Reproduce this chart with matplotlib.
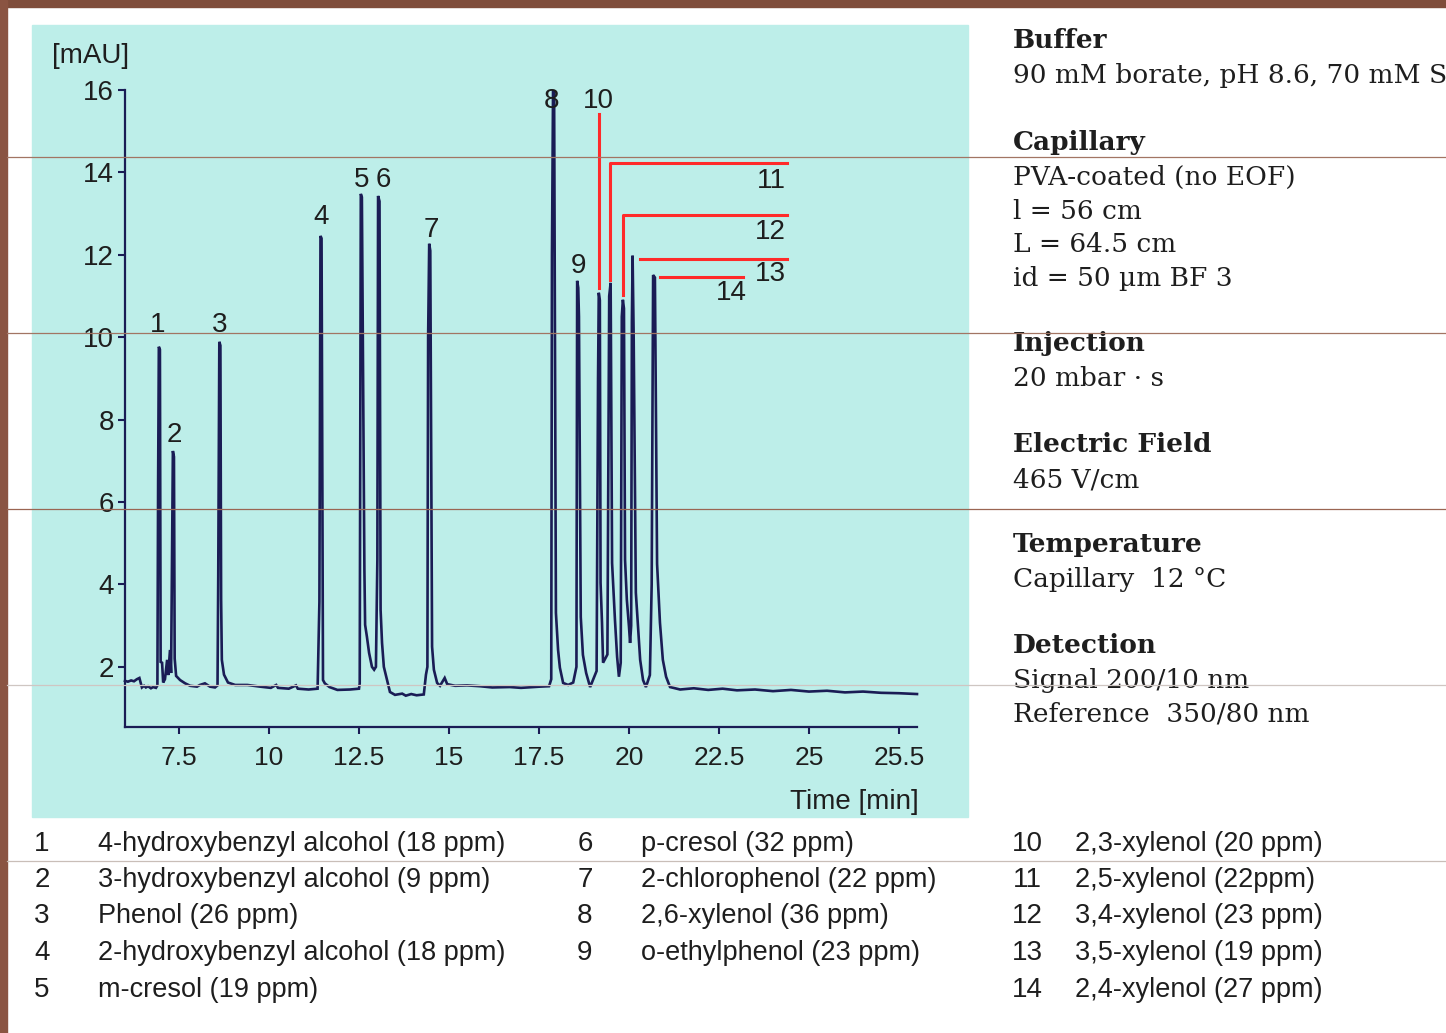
import matplotlib
matplotlib.use("Agg")
import matplotlib.pyplot as plt
from matplotlib.patches import Rectangle
from matplotlib.lines import Line2D

W, H = 1446, 1033

# electropherogram trace: migration time [min] and absorbance [mAU]
trace_t = [
    6.00, 6.08, 6.17, 6.25, 6.33, 6.40, 6.44, 6.47, 6.53, 6.58, 6.64, 6.72, 6.78, 6.86,
    6.90, 6.92, 6.94, 6.97, 6.99, 7.03, 7.06, 7.11, 7.17, 7.20, 7.25, 7.28,
    7.31, 7.33, 7.36, 7.38, 7.42, 7.53, 7.67, 7.81, 8.00, 8.08, 8.22, 8.36, 8.50,
    8.57, 8.59, 8.62, 8.65, 8.67, 8.69, 8.75, 8.86, 9.06, 9.40, 9.75, 10.05, 10.20,
    10.25, 10.55, 10.75, 10.80, 11.10, 11.35,
    11.40, 11.43, 11.46, 11.50, 11.55, 11.68, 11.90, 12.25, 12.50,
    12.52, 12.55, 12.58, 12.65, 12.67, 12.72, 12.78, 12.86, 12.92, 12.97,
    13.01, 13.03, 13.07, 13.10, 13.14, 13.19, 13.28, 13.36, 13.50, 13.70, 13.80,
    13.95, 14.10, 14.30,
    14.36, 14.40, 14.42, 14.45, 14.48, 14.53, 14.58, 14.67, 14.75, 14.88, 14.95,
    15.17, 15.50, 15.86, 16.20, 16.69, 17.00, 17.53, 17.78,
    17.84, 17.86, 17.89, 17.92, 17.97, 18.03, 18.08, 18.17, 18.31, 18.45,
    18.54, 18.56, 18.59, 18.61, 18.66, 18.72, 18.81, 18.92,
    19.10, 19.14, 19.16, 19.19, 19.21, 19.25, 19.28,
    19.40, 19.45, 19.49, 19.53, 19.61, 19.67, 19.72,
    19.77, 19.80, 19.83, 19.86, 19.89, 19.94, 20.00, 20.03,
    20.06, 20.08, 20.10, 20.13, 20.19, 20.25, 20.31, 20.39, 20.47,
    20.58, 20.63, 20.67, 20.72, 20.78, 20.86, 20.94, 21.03, 21.14, 21.42,
    21.80, 22.20, 22.60, 23.00, 23.50, 24.00, 24.50, 25.00, 25.50, 26.00,
    26.50, 27.00, 27.50, 28.00,
]
trace_mau = [
    1.66, 1.64, 1.67, 1.65, 1.70, 1.73, 1.60, 1.50, 1.54, 1.50, 1.53, 1.48, 1.51, 1.49,
    1.55, 6.50, 9.77, 9.70, 2.12, 2.10, 1.62, 1.70, 2.17, 1.80, 2.41, 1.85,
    4.90, 7.24, 7.10, 2.20, 1.78, 1.68, 1.60, 1.54, 1.52, 1.56, 1.60, 1.52, 1.50,
    1.55, 4.23, 9.89, 9.80, 3.63, 2.17, 1.81, 1.62, 1.56, 1.56, 1.52, 1.49, 1.56,
    1.49, 1.47, 1.55, 1.47, 1.45, 1.47,
    3.58, 12.46, 12.40, 1.68, 1.60, 1.51, 1.44, 1.45, 1.47,
    1.60, 13.48, 13.40, 4.35, 3.02, 2.73, 2.34, 2.00, 1.93, 2.00,
    4.60, 13.43, 13.30, 3.38, 2.58, 2.00, 1.68, 1.39, 1.32, 1.35, 1.30,
    1.34, 1.31, 1.33,
    1.81, 2.00, 10.00, 12.27, 12.10, 2.49, 1.93, 1.61, 1.54, 1.73, 1.58,
    1.54, 1.55, 1.53, 1.50, 1.51, 1.49, 1.52, 1.53,
    1.70, 12.00, 16.00, 15.90, 3.31, 2.41, 1.98, 1.61, 1.56, 1.62,
    2.00, 11.37, 11.20, 10.50, 3.21, 2.29, 1.85, 1.51,
    1.90, 9.00, 11.08, 10.90, 4.04, 3.07, 2.10,
    2.30, 11.00, 11.32, 4.52, 3.14, 2.24, 1.76,
    2.10, 10.50, 10.91, 10.70, 4.60, 3.63, 2.97, 2.58,
    3.00, 10.37, 11.98, 10.00, 3.80, 2.97, 2.17, 1.68, 1.51,
    1.80, 4.00, 11.51, 11.45, 4.50, 3.07, 2.17, 1.76, 1.51, 1.45,
    1.48, 1.44, 1.47, 1.43, 1.45, 1.41, 1.44, 1.40, 1.42, 1.38,
    1.40, 1.37, 1.36, 1.34,
]

# peak numbers, apex times and apex heights
peak_ids = list(range(1, 15))
peak_t = [6.94, 7.33, 8.62, 11.43, 12.55, 13.03, 14.45, 17.89, 18.56, 19.16,
          19.49, 19.83, 20.10, 20.69]
peak_mau = [9.77, 7.24, 9.89, 12.46, 13.48, 13.43, 12.27, 16.00, 11.37, 11.08,
            11.32, 10.91, 11.98, 11.51]

x_ticks = [7.5, 10, 12.5, 15, 17.5, 20, 22.5, 25, 27.5]
x_tick_labels = ["7.5", "10", "12.5", "15", "17.5", "20", "22.5", "25", "25.5"]
y_ticks = [2, 4, 6, 8, 10, 12, 14, 16]

compounds = [
    "4-hydroxybenzyl alcohol (18 ppm)",
    "3-hydroxybenzyl alcohol (9 ppm)",
    "Phenol (26 ppm)",
    "2-hydroxybenzyl alcohol (18 ppm)",
    "m-cresol (19 ppm)",
    "p-cresol (32 ppm)",
    "2-chlorophenol (22 ppm)",
    "2,6-xylenol (36 ppm)",
    "o-ethylphenol (23 ppm)",
    "2,3-xylenol (20 ppm)",
    "2,5-xylenol (22ppm)",
    "3,4-xylenol (23 ppm)",
    "3,5-xylenol (19 ppm)",
    "2,4-xylenol (27 ppm)",
]

conditions = [
    ("Buffer", ["90 mM borate, pH 8.6, 70 mM SDS"]),
    ("Capillary", ["PVA-coated (no EOF)", "l = 56 cm", "L = 64.5 cm",
                   "id = 50 \u00b5m BF 3"]),
    ("Injection", ["20 mbar \u00b7 s"]),
    ("Electric Field", ["465 V/cm"]),
    ("Temperature", ["Capillary  12 \u00b0C"]),
    ("Detection", ["Signal 200/10 nm", "Reference  350/80 nm"]),
]

NAVY = "#1a1c55"
INK = "#1e1e1e"
SANS = ["Liberation Sans", "DejaVu Sans"]
SERIF = ["DejaVu Serif"]


def fx(x):
    return x / W


def fy(y):
    return 1 - y / H


fig = plt.figure(figsize=(W / 100, H / 100), dpi=100)
fig.patch.set_facecolor("white")

# slide frame and shaded chart panel
fig.add_artist(Rectangle((0, fy(7)), 1, 7 / H, transform=fig.transFigure,
                         color="#7f4d3b", zorder=0))
fig.add_artist(Rectangle((0, 0), 7 / W, 1, transform=fig.transFigure,
                         color="#8a5442", zorder=0))
fig.add_artist(Rectangle((fx(32), fy(817)), fx(968) - fx(32), fy(25) - fy(817),
                         transform=fig.transFigure, color="#bdeee9", zorder=0))

ax = fig.add_axes([fx(125), fy(727), fx(917) - fx(125), fy(88) - fy(727)])
ax.set_facecolor("none")
ax.set_xlim(6, 28)
ax.set_ylim(0.54, 16.05)

ax.plot(trace_t, trace_mau, color=NAVY, lw=1.9, solid_joinstyle="miter",
        clip_on=False)

for side in ("top", "right"):
    ax.spines[side].set_visible(False)
for side in ("left", "bottom"):
    ax.spines[side].set_color(NAVY)
    ax.spines[side].set_linewidth(1.6)
ax.spines["left"].set_bounds(0.54, 16)

ax.set_xticks(x_ticks)
ax.set_xticklabels(x_tick_labels)
ax.set_yticks(y_ticks)
ax.tick_params(axis="both", direction="out", length=5, width=1.5, colors=NAVY,
               labelcolor=INK)
ax.tick_params(axis="x", pad=9)
ax.tick_params(axis="y", pad=3)
for lab in ax.get_xticklabels():
    lab.set_family(SANS)
    lab.set_fontsize(19)
for lab in ax.get_yticklabels():
    lab.set_family(SANS)
    lab.set_fontsize(20)

fig.text(fx(91), fy(56), "[mAU]", ha="center", va="center", family=SANS,
         fontsize=20, color=INK)
fig.text(fx(919), fy(802), "Time [min]", ha="right", va="center", family=SANS,
         fontsize=20, color=INK)

# peak numbers
label_pos = {
    1: (6.92, 10.30), 2: (7.36, 7.63), 3: (8.64, 10.30), 4: (11.44, 12.92),
    5: (12.58, 13.82), 6: (13.17, 13.82), 7: (14.50, 12.61), 8: (17.86, 15.74),
    9: (18.61, 11.73), 10: (19.14, 15.74), 11: (24.35, 13.80),
    12: (24.35, 12.56), 13: (24.35, 11.54), 14: (22.83, 11.08),
}
for pid in peak_ids:
    lx, ly = label_pos[pid]
    ha = "right" if pid in (11, 12, 13) else "center"
    ax.text(lx, ly, str(pid), ha=ha, va="center", family=SANS, fontsize=20,
            color=INK, clip_on=False)

# leader lines for the crowded peaks 10-14
RED = "#ff2a2a"
end_x = 24.39
pt = dict(zip(peak_ids, peak_t))
pm = dict(zip(peak_ids, peak_mau))
ax.plot([pt[10], pt[10]], [pm[10] + 0.12, 15.42], color=RED, lw=2.2)
ax.plot([pt[11] - 0.03, pt[11] - 0.03, end_x], [pm[11] + 0.08, 14.23, 14.23],
        color=RED, lw=2.2)
ax.plot([pt[12], pt[12], end_x], [pm[12] + 0.12, 12.97, 12.97], color=RED, lw=2.2)
ax.plot([pt[13] + 0.21, end_x], [11.90, 11.90], color=RED, lw=2.2)
ax.plot([pt[14] + 0.17, 23.17], [11.47, 11.47], color=RED, lw=2.2)

# compound key below the chart
row_base = [851, 887, 923, 960, 997]
col_num_x = [42, 585, 1027]
col_name_x = [98, 641, 1075]
col_rows = [5, 4, 5]
k = 0
for c in range(3):
    for r in range(col_rows[c]):
        fig.text(fx(col_num_x[c]), fy(row_base[r]), str(peak_ids[k]), ha="center",
                 va="baseline", family=SANS, fontsize=20, color=INK)
        fig.text(fx(col_name_x[c]), fy(row_base[r]), compounds[k], ha="left",
                 va="baseline", family=SANS, fontsize=19.5, color=INK)
        k += 1

# separation conditions on the right
head_base = [48, 150, 351, 452, 552, 653]
for (head, lines), hb in zip(conditions, head_base):
    fig.text(fx(1013), fy(hb), head, ha="left", va="baseline", family=SERIF,
             fontsize=19, fontweight="bold", color=INK)
    for i, line in enumerate(lines):
        fig.text(fx(1013), fy(hb + 35 + 33.6 * i), line, ha="left", va="baseline",
                 family=SERIF, fontsize=19, color=INK)

# thin rules running across the slide
for yy, col in [(157, "#a27563"), (333, "#a27563"), (509, "#9a6552"),
                (685, "#cfc6c2"), (861, "#c9beb8")]:
    fig.add_artist(Line2D([fx(7), 1], [fy(yy), fy(yy)], transform=fig.transFigure,
                          color=col, lw=0.9, zorder=20))

fig.savefig("out.png", dpi=100)
